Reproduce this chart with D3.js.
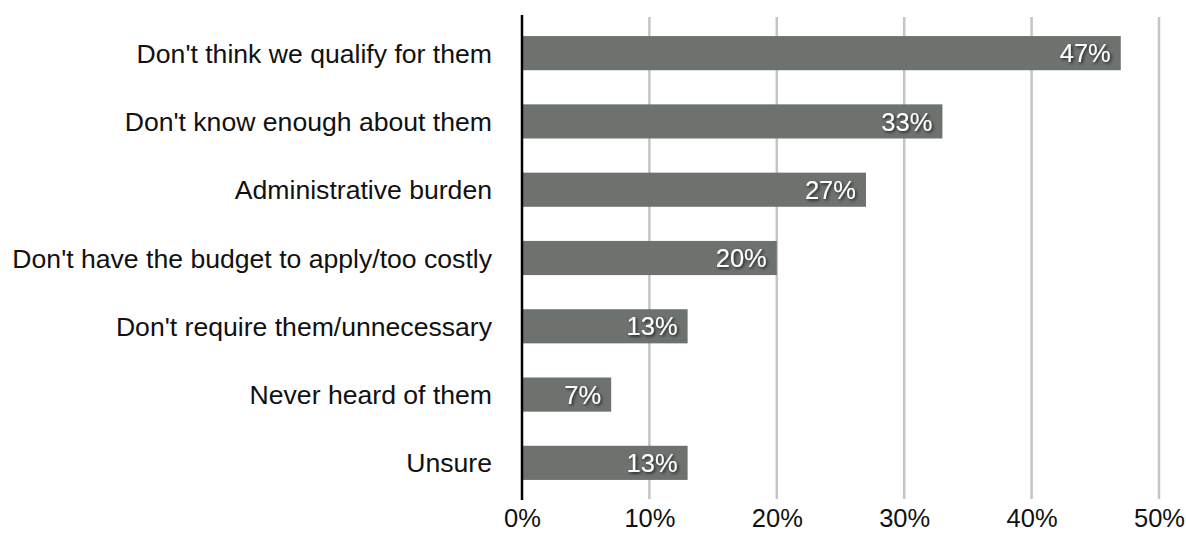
<!DOCTYPE html>
<html>
<head>
<meta charset="utf-8">
<script src="https://cdn.jsdelivr.net/npm/d3@7"></script>
<style>
  html, body { margin: 0; padding: 0; background: #fff; }
  svg { display: block; font-family: "Liberation Sans", Arial, Helvetica, sans-serif; }
</style>
</head>
<body>
<svg id="chart" width="1186" height="533"></svg>
<script>
// Reasons for not applying, share of respondents
const categories = [
  "Don't think we qualify for them",
  "Don't know enough about them",
  "Administrative burden",
  "Don't have the budget to apply/too costly",
  "Don't require them/unnecessary",
  "Never heard of them",
  "Unsure"
];
const values = [47, 33, 27, 20, 13, 7, 13];
const tickValues = [0, 10, 20, 30, 40, 50];

const svg = d3.select("#chart");
const margin = { top: 19, right: 27, bottom: 36, left: 522 };
const W = 1186, H = 533;

const x = d3.scaleLinear().domain([0, 50]).range([margin.left, W - margin.right]);
const y = d3.scaleBand().domain(categories).range([margin.top, H - margin.bottom]).paddingInner(0.5).paddingOuter(0.25);

const defs = svg.append("defs");
const f = defs.append("filter").attr("id", "shadow").attr("x", "-20%").attr("y", "-30%").attr("width", "140%").attr("height", "160%");
f.append("feDropShadow").attr("dx", 1.5).attr("dy", 1.5).attr("stdDeviation", 1.5).attr("flood-color", "#000").attr("flood-opacity", 0.75);

// vertical gridlines
svg.append("g").selectAll("line")
  .data(tickValues.filter(d => d > 0))
  .join("line")
  .attr("x1", d => x(d)).attr("x2", d => x(d))
  .attr("y1", 17).attr("y2", 499)
  .attr("stroke", "#c4c4c4").attr("stroke-width", 2.5);

// bars
svg.append("g").selectAll("rect")
  .data(categories)
  .join("rect")
  .attr("x", x(0))
  .attr("y", d => y(d))
  .attr("width", (d, i) => x(values[i]) - x(0))
  .attr("height", y.bandwidth())
  .attr("fill", "#6e726f");

// value labels inside bars
svg.append("g").selectAll("text")
  .data(categories)
  .join("text")
  .attr("x", (d, i) => x(values[i]) - 10)
  .attr("y", d => y(d) + y.bandwidth() / 2)
  .attr("dy", "0.36em")
  .attr("text-anchor", "end")
  .attr("fill", "#fff")
  .attr("font-size", 25.5)
  .attr("filter", "url(#shadow)")
  .text((d, i) => values[i] + "%");

// category labels
svg.append("g").selectAll("text")
  .data(categories)
  .join("text")
  .attr("x", 492)
  .attr("y", d => y(d) + y.bandwidth() / 2)
  .attr("dy", "0.36em")
  .attr("text-anchor", "end")
  .attr("fill", "#111")
  .attr("font-size", 26.6)
  .text(d => d);

// x axis tick labels (baseline placed so descenders stay inside the frame)
const xAxis = d3.axisBottom(x).tickValues(tickValues).tickFormat(d => d + "%").tickSize(0).tickPadding(0);
const gx = svg.append("g").attr("transform", "translate(0,527)").call(xAxis);
gx.select(".domain").remove();
gx.selectAll("text").attr("font-size", 25.5).attr("fill", "#111").attr("y", 0).attr("dy", 0)
  .style("font-family", "'Liberation Sans', Arial, Helvetica, sans-serif");

// baseline axis
svg.append("line")
  .attr("x1", x(0)).attr("x2", x(0))
  .attr("y1", 15).attr("y2", 500)
  .attr("stroke", "#000").attr("stroke-width", 2.5);
</script>
</body>
</html>
